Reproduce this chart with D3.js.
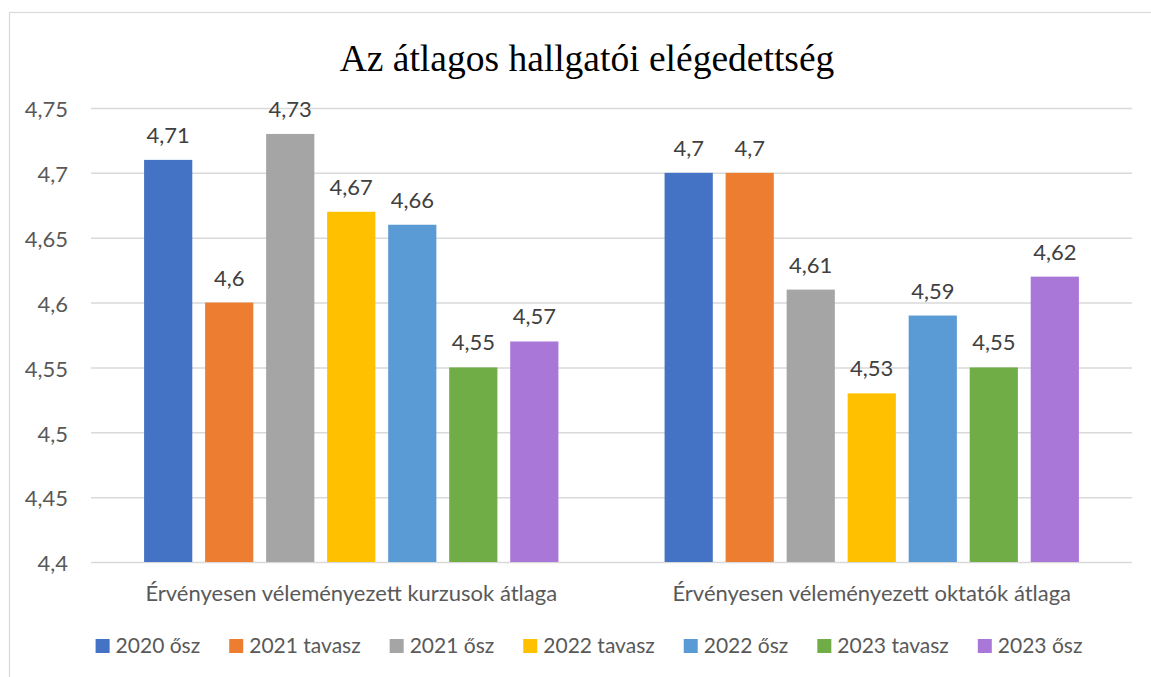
<!DOCTYPE html>
<html>
<head>
<meta charset="utf-8">
<script src="https://cdn.jsdelivr.net/npm/d3@7"></script>
<style>
  body { margin: 0; background: #fff; }
  text { font-family: Lato, "Open Sans", sans-serif; }
</style>
</head>
<body>
<svg id="chart" width="1151" height="677"></svg>
<script>
const categories = ['Érvényesen véleményezett kurzusok átlaga', 'Érvényesen véleményezett oktatók átlaga'];
const series = ['2020 ősz', '2021 tavasz', '2021 ősz', '2022 tavasz', '2022 ősz', '2023 tavasz', '2023 ősz'];
const kurzusok = [4.71, 4.6, 4.73, 4.67, 4.66, 4.55, 4.57];
const oktatok = [4.7, 4.7, 4.61, 4.53, 4.59, 4.55, 4.62];
const yTicks = [4.4, 4.45, 4.5, 4.55, 4.6, 4.65, 4.7, 4.75];
const colors = ['#4472C4', '#ED7D31', '#A5A5A5', '#FFC000', '#5B9BD5', '#70AD47', '#A977D8'];

const dim = { left: 91, right: 1132, top: 108, bottom: 562 };
const labelColor = '#595959';
const fontSize = '22px';

const huLocale = d3.formatLocale({ decimal: ',', thousands: ' ', grouping: [3], currency: ['', ' Ft'] });
const fmt = huLocale.format('~g');

const rows = categories.map((c, i) => ({
  category: c,
  values: series.map((s, j) => ({ series: s, value: (i === 0 ? kurzusok : oktatok)[j] })),
}));

const svg = d3.select('#chart');

// chart frame
svg.append('rect')
  .attr('x', 9.5).attr('y', 12.5)
  .attr('width', 1160).attr('height', 700)
  .style('fill', '#fff')
  .style('stroke', '#d9d9d9')
  .style('stroke-width', 1.2);

svg.append('text')
  .attr('x', 587).attr('y', 71)
  .attr('text-anchor', 'middle')
  .style('font-family', '"Liberation Serif", "Times New Roman", serif')
  .style('font-size', '37.5px')
  .style('fill', '#000')
  .text('Az átlagos hallgatói elégedettség');

const x0 = d3.scaleBand().domain(categories).range([dim.left, dim.right]);
const x1 = d3.scaleBand().domain(series).range([0, x0.bandwidth()]).paddingInner(0.21).paddingOuter(0.87);
const y = d3.scaleLinear().domain([4.4, 4.75]).range([dim.bottom, dim.top]);

const yAxis = svg.append('g')
  .attr('transform', `translate(${dim.left},0)`)
  .call(d3.axisLeft(y).tickValues(yTicks).tickFormat(fmt).tickSize(-(dim.right - dim.left)).tickPadding(23));

yAxis.select('.domain').remove();
yAxis.selectAll('.tick line').style('stroke', '#d9d9d9').style('stroke-width', 1.5);
yAxis.selectAll('.tick text')
  .attr('dy', '0.4em')
  .style('font-family', 'Lato, sans-serif')
  .style('font-size', fontSize)
  .style('fill', labelColor);

const groups = svg.append('g')
  .selectAll('g')
  .data(rows)
  .enter()
  .append('g')
  .attr('transform', (d) => `translate(${x0(d.category)},0)`);

groups.selectAll('rect')
  .data((d) => d.values)
  .enter()
  .append('rect')
  .attr('x', (d) => x1(d.series))
  .attr('y', (d) => y(d.value))
  .attr('width', x1.bandwidth())
  .attr('height', (d) => y(4.4) - y(d.value))
  .style('fill', (d, i) => colors[i]);

groups.selectAll('text.value')
  .data((d) => d.values)
  .enter()
  .append('text')
  .attr('class', 'value')
  .attr('x', (d) => x1(d.series) + x1.bandwidth() / 2)
  .attr('y', (d) => y(d.value) - 17)
  .attr('text-anchor', 'middle')
  .style('font-size', fontSize)
  .style('fill', '#404040')
  .text((d) => fmt(d.value));

svg.append('g')
  .selectAll('text')
  .data(categories)
  .enter()
  .append('text')
  .attr('x', (d) => x0(d) + x0.bandwidth() / 2)
  .attr('y', 601)
  .attr('text-anchor', 'middle')
  .style('font-size', fontSize)
  .style('fill', labelColor)
  .text((d) => d);

// legend
const legend = svg.append('g').attr('transform', 'translate(0,653)');
const items = legend.selectAll('g')
  .data(series)
  .enter()
  .append('g');

items.append('rect')
  .attr('y', -14)
  .attr('width', 14)
  .attr('height', 14)
  .style('fill', (d, i) => colors[i]);

items.append('text')
  .attr('x', 20)
  .style('font-size', '21px')
  .style('fill', labelColor)
  .text((d) => d);

const widths = [];
items.each(function () { widths.push(this.getBBox().width); });
const gap = 29;
const total = d3.sum(widths) + gap * (widths.length - 1);
let cursor = 589 - total / 2;
items.attr('transform', (d, i) => {
  const tx = cursor;
  cursor += widths[i] + gap;
  return `translate(${tx},0)`;
});
</script>
</body>
</html>
